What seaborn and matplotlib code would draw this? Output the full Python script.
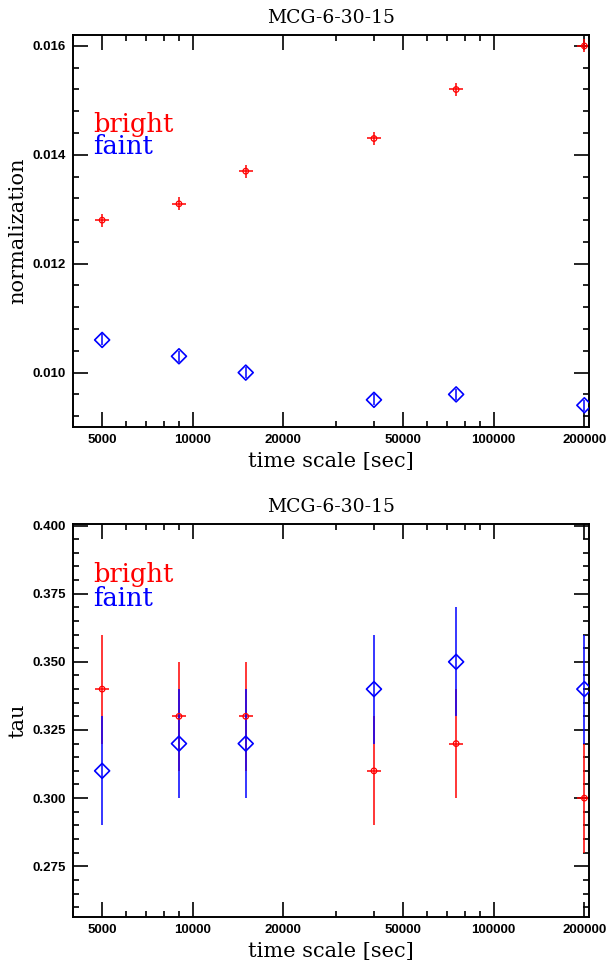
import matplotlib
matplotlib.use("Agg")
import matplotlib.pyplot as plt
from matplotlib.ticker import FixedLocator, MultipleLocator, FuncFormatter, NullFormatter
import pandas as pd
import seaborn as sns

# Time scales of the light-curve segments [sec]
timescale = [5000, 9000, 15000, 40000, 75000, 200000]

# Power-law normalization per time scale
norm_bright = [0.0128, 0.0131, 0.0137, 0.0143, 0.0152, 0.0160]
norm_bright_err = [0.00012, 0.00012, 0.00012, 0.00012, 0.00012, 0.00012]
norm_faint = [0.0106, 0.0103, 0.0100, 0.0095, 0.0096, 0.0094]
norm_faint_err = [0.0001, 0.0001, 0.0001, 0.0001, 0.0001, 0.0001]

# Optical depth per time scale
tau_bright = [0.340, 0.330, 0.330, 0.310, 0.320, 0.300]
tau_bright_err = [0.02, 0.02, 0.02, 0.02, 0.02, 0.02]
tau_faint = [0.310, 0.320, 0.320, 0.340, 0.350, 0.340]
tau_faint_err = [0.02, 0.02, 0.02, 0.02, 0.02, 0.02]

# Axis ticks
x_major = [5000, 10000, 20000, 50000, 100000, 200000]
x_minor = [4000, 6000, 7000, 8000, 9000, 30000, 40000,
           60000, 70000, 80000, 90000]
title = "MCG-6-30-15"

sns.set_theme(style="ticks")
plt.rcParams.update({
    "font.family": ["Liberation Sans", "DejaVu Sans"],
    "font.weight": "bold",
    "text.color": "black",
    "axes.labelcolor": "black",
    "axes.titlecolor": "black",
    "axes.edgecolor": "black",
    "axes.linewidth": 1.4,
    "xtick.color": "black",
    "ytick.color": "black",
    "xtick.labelsize": 9.5,
    "ytick.labelsize": 9.5,
})

SERIF = ["DejaVu Serif"]
XSPAN = 1.055  # half-width of the horizontal bar, as a ratio on the log axis


def draw_panel(ax, bright, bright_err, faint, faint_err, ylabel, ylim,
               ymajor, yminor, yfmt, text_y):
    df = pd.DataFrame({
        "timescale": timescale + timescale,
        "value": bright + faint,
        "state": ["bright"] * len(bright) + ["faint"] * len(faint),
    })

    xlo = [t - t / XSPAN for t in timescale]
    xhi = [t * XSPAN - t for t in timescale]
    ax.errorbar(timescale, bright, yerr=bright_err, xerr=[xlo, xhi],
                fmt="none", ecolor="red", elinewidth=1.1, capsize=0, zorder=2)
    ax.errorbar(timescale, faint, yerr=faint_err, fmt="none",
                ecolor="blue", elinewidth=1.1, capsize=0, zorder=2.1)

    sns.scatterplot(data=df, x="timescale", y="value", hue="state",
                    style="state", size="state",
                    markers={"bright": "o", "faint": "D"},
                    sizes={"bright": 16, "faint": 58},
                    palette={"bright": "red", "faint": "blue"},
                    legend=False, ax=ax, linewidth=1.0, zorder=3)
    coll = ax.collections[-1]
    fcs = coll.get_facecolors()
    coll.set_edgecolors(fcs)
    coll.set_facecolors("none")
    coll.set_linewidths([0.9] * len(bright) + [1.2] * len(faint))

    ax.set_xscale("log")
    ax.set_xlim(4000, 207500)
    ax.set_ylim(*ylim)
    ax.xaxis.set_major_locator(FixedLocator(x_major))
    ax.xaxis.set_minor_locator(FixedLocator(x_minor))
    ax.xaxis.set_major_formatter(FuncFormatter(lambda v, p: f"{int(round(v))}"))
    ax.xaxis.set_minor_formatter(NullFormatter())
    ax.yaxis.set_major_locator(MultipleLocator(ymajor))
    ax.yaxis.set_minor_locator(MultipleLocator(yminor))
    ax.yaxis.set_major_formatter(FuncFormatter(lambda v, p: format(v, yfmt)))

    ax.tick_params(which="both", direction="in", top=True, right=True,
                   width=1.2, color="black")
    ax.tick_params(which="major", length=11, pad=5)
    ax.tick_params(which="minor", length=4.3)
    for s in ax.spines.values():
        s.set_visible(True)
        s.set_linewidth(1.4)

    ax.set_title(title, family=SERIF, fontsize=13.5, fontweight="normal",
                 pad=8.6)
    ax.set_xlabel("time scale [sec]", family=SERIF, fontsize=15,
                  fontweight="normal", labelpad=4.5)
    ax.set_ylabel(ylabel, family=SERIF, fontsize=15, fontweight="normal",
                  labelpad=4)

    ax.text(0.039, text_y[0], "bright", color="red", family=SERIF,
            fontsize=18.5, fontweight="normal", transform=ax.transAxes,
            va="baseline", ha="left")
    ax.text(0.039, text_y[1], "faint", color="blue", family=SERIF,
            fontsize=18.5, fontweight="normal", transform=ax.transAxes,
            va="baseline", ha="left")


fig = plt.figure(figsize=(6.08, 9.64), dpi=100)
ax_top = fig.add_axes([0.120, 0.557, 0.849, 0.4072])
ax_bot = fig.add_axes([0.120, 0.0491, 0.849, 0.4071])

draw_panel(ax_top, norm_bright, norm_bright_err, norm_faint, norm_faint_err,
           "normalization", (0.009, 0.01621), 0.002, 0.0004, ".3f",
           (0.751, 0.695))
draw_panel(ax_bot, tau_bright, tau_bright_err, tau_faint, tau_faint_err,
           "tau", (0.2565, 0.4005), 0.025, 0.005, ".3f",
           (0.854, 0.792))

fig.savefig("out.png", dpi=100)
